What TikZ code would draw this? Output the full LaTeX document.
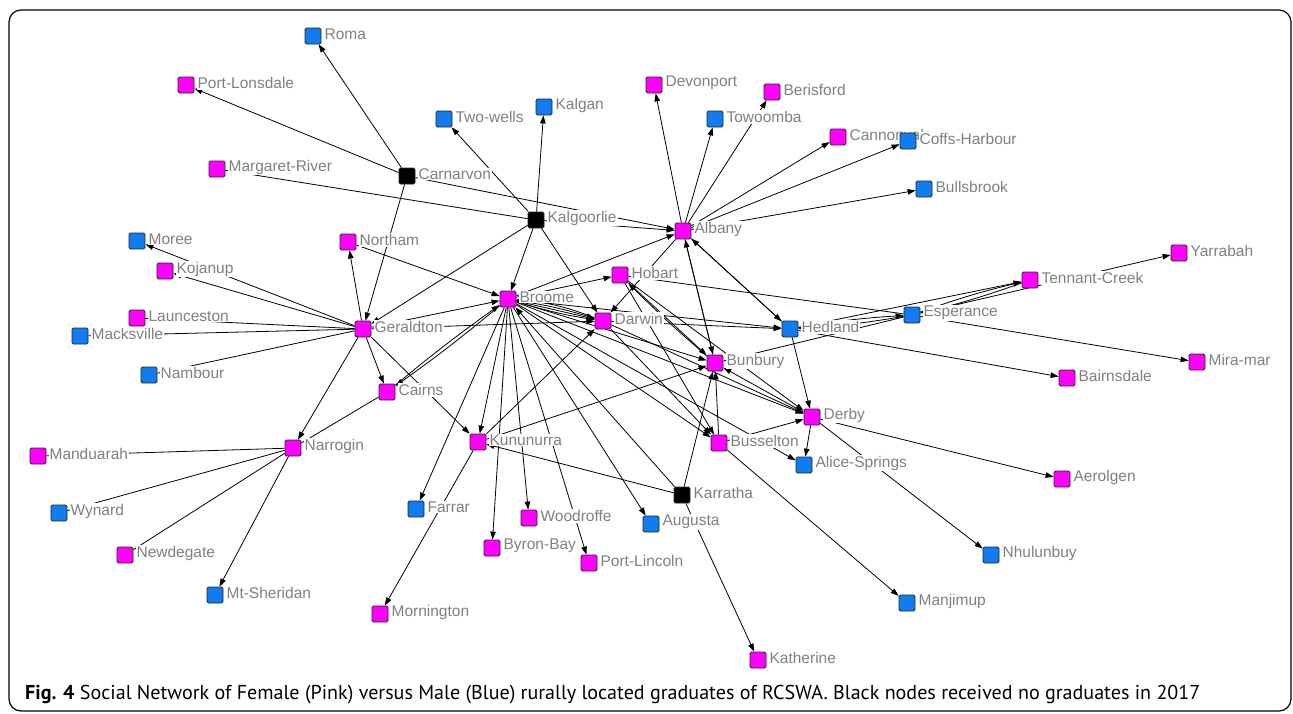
\documentclass[tikz,border=0pt]{standalone}
\usepackage{fontspec}
\setmainfont{Liberation Sans}
\newfontfamily\capfont{PT Sans}
\usetikzlibrary{arrows.meta,backgrounds}
\definecolor{pinkloc}{RGB}{255,0,255}
\definecolor{blueloc}{RGB}{16,124,240}
\definecolor{lblgray}{RGB}{128,128,128}

\tikzset{
    loc/.style={rectangle, draw=black!85, line width=0.8pt, rounded corners=1.5pt,
        minimum size=16pt, inner sep=0pt},
    fem/.style={loc, fill=pinkloc},
    mal/.style={loc, fill=blueloc},
    blk/.style={loc, fill=black},
    lbl/.style={text=lblgray, fill=white, inner sep=1pt, yshift=2pt,
        font=\fontsize{15.5}{17}\selectfont},
    con/.style={-{Triangle[length=8pt,width=5.5pt]}, line width=0.8pt},
    lnk/.style={line width=0.8pt}
}

\begin{document}
\begin{tikzpicture}[x=1pt, y=-1pt]
    \useasboundingbox (0,0) rectangle (1293,713);
    \draw[line width=1.2pt, rounded corners=12pt] (9,10) rectangle (1291,711);

    % Black nodes (no graduates)
    \node[blk, label={[lbl, label distance=2pt]right:Carnarvon}] (Carnarvon) at (407,176) {};
    \node[blk, label={[lbl, label distance=2pt]right:Kalgoorlie}] (Kalgoorlie) at (536,220) {};
    \node[blk, label={[lbl, label distance=2pt]right:Karratha}] (Karratha) at (682,495) {};

    % Top row
    \node[mal, label={[lbl, label distance=2pt]right:Roma}] (Roma) at (313,36) {};
    \node[fem, label={[lbl, label distance=2pt]right:Port-Lonsdale}] (PortLonsdale) at (186,85) {};
    \node[fem, label={[lbl, label distance=2pt]right:Margaret-River}] (MargaretRiver) at (217,169) {};
    \node[mal, label={[lbl, label distance=2pt]right:Two-wells}] (TwoWells) at (444,119) {};
    \node[mal, label={[lbl, label distance=2pt]right:Kalgan}] (Kalgan) at (544,107) {};
    \node[fem, label={[lbl, label distance=2pt]right:Devonport}] (Devonport) at (654,85) {};
    \node[fem, label={[lbl, label distance=2pt]right:Berisford}] (Berisford) at (772,92) {};
    \node[mal, label={[lbl, label distance=2pt]right:Towoomba}] (Towoomba) at (715,119) {};
    \node[fem, label={[lbl, label distance=2pt]right:Cannonvale}] (Cannonvale) at (838,137) {};
    \node[mal, label={[lbl, label distance=2pt]right:Coffs-Harbour}] (CoffsHarbour) at (908,141) {};
    \node[mal, label={[lbl, label distance=2pt]right:Bullsbrook}] (Bullsbrook) at (924,189) {};
    \node[fem, label={[lbl, label distance=2pt]right:Albany}] (Albany) at (683,231) {};

    % West side
    \node[mal, label={[lbl, label distance=2pt]right:Moree}] (Moree) at (137,241) {};
    \node[fem, label={[lbl, label distance=2pt]right:Northam}] (Northam) at (348,242) {};
    \node[fem, label={[lbl, label distance=2pt]right:Kojanup}] (Kojanup) at (165,271) {};
    \node[fem, label={[lbl, label distance=2pt]right:Launceston}] (Launceston) at (137,318) {};
    \node[mal, label={[lbl, label distance=2pt]right:Macksville}] (Macksville) at (80,336) {};
    \node[fem, label={[lbl, label distance=2pt]right:Geraldton}] (Geraldton) at (363,329) {};
    \node[mal, label={[lbl, label distance=2pt]right:Nambour}] (Nambour) at (149,375) {};
    \node[fem, label={[lbl, label distance=2pt]right:Cairns}] (Cairns) at (387,392) {};
    \node[fem, label={[lbl, label distance=2pt]right:Narrogin}] (Narrogin) at (293,448) {};
    \node[fem, label={[lbl, label distance=2pt]right:Manduarah}] (Manduarah) at (38,456) {};
    \node[mal, label={[lbl, label distance=2pt]right:Wynard}] (Wynard) at (59,513) {};
    \node[fem, label={[lbl, label distance=2pt]right:Newdegate}] (Newdegate) at (125,555) {};
    \node[mal, label={[lbl, label distance=2pt]right:Mt-Sheridan}] (MtSheridan) at (215,595) {};
    \node[fem, label={[lbl, label distance=2pt]right:Mornington}] (Mornington) at (380,614) {};

    % Centre
    \node[fem, label={[lbl, label distance=2pt]right:Broome}] (Broome) at (508,299) {};
    \node[fem, label={[lbl, label distance=2pt]right:Hobart}] (Hobart) at (620,275) {};
    \node[fem, label={[lbl, label distance=2pt]right:Darwin}] (Darwin) at (603,321) {};
    \node[mal, label={[lbl, label distance=2pt]right:Hedland}] (Hedland) at (790,329) {};
    \node[fem, label={[lbl, label distance=2pt]right:Bunbury}] (Bunbury) at (715,363) {};
    \node[fem, label={[lbl, label distance=2pt]right:Derby}] (Derby) at (812,417) {};
    \node[fem, label={[lbl, label distance=2pt]right:Kununurra}] (Kununurra) at (478,442) {};
    \node[fem, label={[lbl, label distance=2pt]right:Busselton}] (Busselton) at (719,443) {};
    \node[mal, label={[lbl, label distance=2pt]right:Alice-Springs}] (AliceSprings) at (804,465) {};
    \node[mal, label={[lbl, label distance=2pt]right:Farrar}] (Farrar) at (416,509) {};
    \node[fem, label={[lbl, label distance=2pt]right:Woodroffe}] (Woodroffe) at (529,518) {};
    \node[mal, label={[lbl, label distance=2pt]right:Augusta}] (Augusta) at (651,524) {};
    \node[fem, label={[lbl, label distance=2pt]right:Byron-Bay}] (ByronBay) at (492,548) {};
    \node[fem, label={[lbl, label distance=2pt]right:Port-Lincoln}] (PortLincoln) at (589,563) {};
    \node[fem, label={[lbl, label distance=2pt]right:Katherine}] (Katherine) at (758,660) {};

    % East side
    \node[mal, label={[lbl, label distance=2pt]right:Esperance}] (Esperance) at (912,315) {};
    \node[fem, label={[lbl, label distance=2pt]right:Tennant-Creek}] (TennantCreek) at (1030,280) {};
    \node[fem, label={[lbl, label distance=2pt]right:Yarrabah}] (Yarrabah) at (1179,253) {};
    \node[fem, label={[lbl, label distance=2pt]right:Mira-mar}] (MiraMar) at (1197,362) {};
    \node[fem, label={[lbl, label distance=2pt]right:Bairnsdale}] (Bairnsdale) at (1067,378) {};
    \node[fem, label={[lbl, label distance=2pt]right:Aerolgen}] (Aerolgen) at (1062,479) {};
    \node[mal, label={[lbl, label distance=2pt]right:Nhulunbuy}] (Nhulunbuy) at (991,555) {};
    \node[mal, label={[lbl, label distance=2pt]right:Manjimup}] (Manjimup) at (907,603) {};

    % Caption
    \node[anchor=west, inner sep=0pt] (caption) at (25,695)
        {\resizebox{1175pt}{!}{\capfont\textbf{Fig. 4} Social Network of Female (Pink) versus Male (Blue) rurally located graduates of RCSWA. Black nodes received no graduates in 2017}};

    \begin{pgfonlayer}{background}
    % Carnarvon and Kalgoorlie
    \draw[con] (Carnarvon) -- (Roma);
    \draw[con] (Carnarvon) -- (PortLonsdale);
    \draw[con] (Carnarvon) -- (Geraldton);
    \draw[con] (Carnarvon) -- (Albany);
    \draw[con] (Kalgoorlie) -- (TwoWells);
    \draw[con] (Kalgoorlie) -- (Kalgan);
    \draw[con] (Kalgoorlie) -- (Albany);
    \draw[con] (Kalgoorlie) -- (Broome);
    \draw[con] (Kalgoorlie) -- (Geraldton);
    \draw[con] (Kalgoorlie) -- (Darwin);
    \draw[lnk] (Kalgoorlie) -- (MargaretRiver);

    % Albany
    \draw[con] (Albany) -- (Devonport);
    \draw[con] (Albany) -- (Towoomba);
    \draw[con] (Albany) -- (Berisford);
    \draw[con] (Albany) -- (Cannonvale);
    \draw[con] (Albany) -- (CoffsHarbour);
    \draw[con] (Albany) -- (Bullsbrook);
    \draw[con] (Albany) -- (Hedland);
    \draw[con] (Hedland) -- (Albany);
    \draw[con] (Albany) -- (Bunbury);
    \draw[con] (Bunbury) -- (Albany);
    \draw[con] (Albany) -- (Darwin);

    % Geraldton
    \draw[con] (Geraldton) -- (Northam);
    \draw[con] (Geraldton) -- (Moree);
    \draw[con] (Geraldton) -- (Kojanup);
    \draw[lnk] (Geraldton) -- (Launceston);
    \draw[lnk] (Geraldton) -- (Macksville);
    \draw[lnk] (Geraldton) -- (Nambour);
    \draw[con] (Geraldton) -- (Cairns);
    \draw[con] (Geraldton) -- (Narrogin);
    \draw[con] (Geraldton) -- (Kununurra);
    \draw[con] (Geraldton) -- (Broome);
    \draw[con] (Geraldton) -- (Darwin);
    \draw[con] (Northam) -- (Broome);
    \draw[con] (Cairns) to[bend left=2] (Broome);
    \draw[con] (Broome) to[bend left=2] (Cairns);
    \draw[lnk] (Cairns) -- (Narrogin);

    % Narrogin
    \draw[lnk] (Narrogin) -- (Manduarah);
    \draw[lnk] (Narrogin) -- (Wynard);
    \draw[lnk] (Narrogin) -- (Newdegate);
    \draw[con] (Narrogin) -- (MtSheridan);

    % Broome
    \draw[con] (Broome) -- (Kununurra);
    \draw[con] (Broome) -- (Farrar);
    \draw[con] (Broome) -- (ByronBay);
    \draw[con] (Broome) -- (Woodroffe);
    \draw[con] (Broome) -- (PortLincoln);
    \draw[con] (Broome) -- (Augusta);
    \draw[con] (Broome) -- (Busselton);
    \draw[con] (Broome) -- (AliceSprings);
    \draw[con] (Broome) -- (Derby);
    \draw[con] (Broome) -- (Bunbury);
    \draw[con] (Broome) to[bend left=4] (Darwin);
    \draw[con] (Broome) -- (Darwin);
    \draw[con] (Broome) to[bend right=4] (Darwin);
    \draw[con] (Darwin) to[bend right=8] (Broome);
    \draw[con] (Broome) -- (Hobart);
    \draw[con] (Broome) -- (Albany);
    \draw[con] (Broome) -- (Hedland);

    % Kununurra and Karratha
    \draw[con] (Kununurra) -- (Mornington);
    \draw[con] (Kununurra) -- (Bunbury);
    \draw[con] (Kununurra) -- (Darwin);
    \draw[con] (Karratha) -- (Kununurra);
    \draw[con] (Karratha) -- (Bunbury);
    \draw[con] (Karratha) -- (Katherine);
    \draw[con] (Karratha) -- (Broome);

    % Hobart, Darwin, Bunbury
    \draw[con] (Hobart) -- (Bunbury);
    \draw[con] (Bunbury) to[bend left=2] (Hobart);
    \draw[con] (Hobart) -- (Derby);
    \draw[con] (Hobart) -- (Busselton);
    \draw[lnk] (Hobart) -- (Esperance);
    \draw[lnk] (Bunbury) -- (Esperance);
    \draw[con] (Darwin) -- (Hedland);
    \draw[con] (Darwin) -- (Derby);
    \draw[con] (Darwin) -- (Busselton);

    % Busselton and Derby
    \draw[con] (Busselton) -- (Bunbury);
    \draw[con] (Busselton) -- (Manjimup);
    \draw[con] (Busselton) -- (Derby);
    \draw[con] (Derby) -- (Bunbury);
    \draw[con] (Derby) -- (AliceSprings);
    \draw[con] (Derby) -- (Aerolgen);
    \draw[con] (Derby) -- (Nhulunbuy);

    % Hedland and Esperance
    \draw[con] (Hedland) -- (Derby);
    \draw[con] (Hedland) to[bend left=3] (Esperance);
    \draw[con] (Esperance) to[bend left=3] (Hedland);
    \draw[con] (Hedland) -- (Bairnsdale);
    \draw[con] (Hedland) -- (TennantCreek);
    \draw[con] (Esperance) to[bend left=3] (TennantCreek);
    \draw[con] (TennantCreek) to[bend left=3] (Esperance);
    \draw[con] (Esperance) -- (Yarrabah);
    \draw[con] (Esperance) -- (MiraMar);
    \end{pgfonlayer}
\end{tikzpicture}
\end{document}
